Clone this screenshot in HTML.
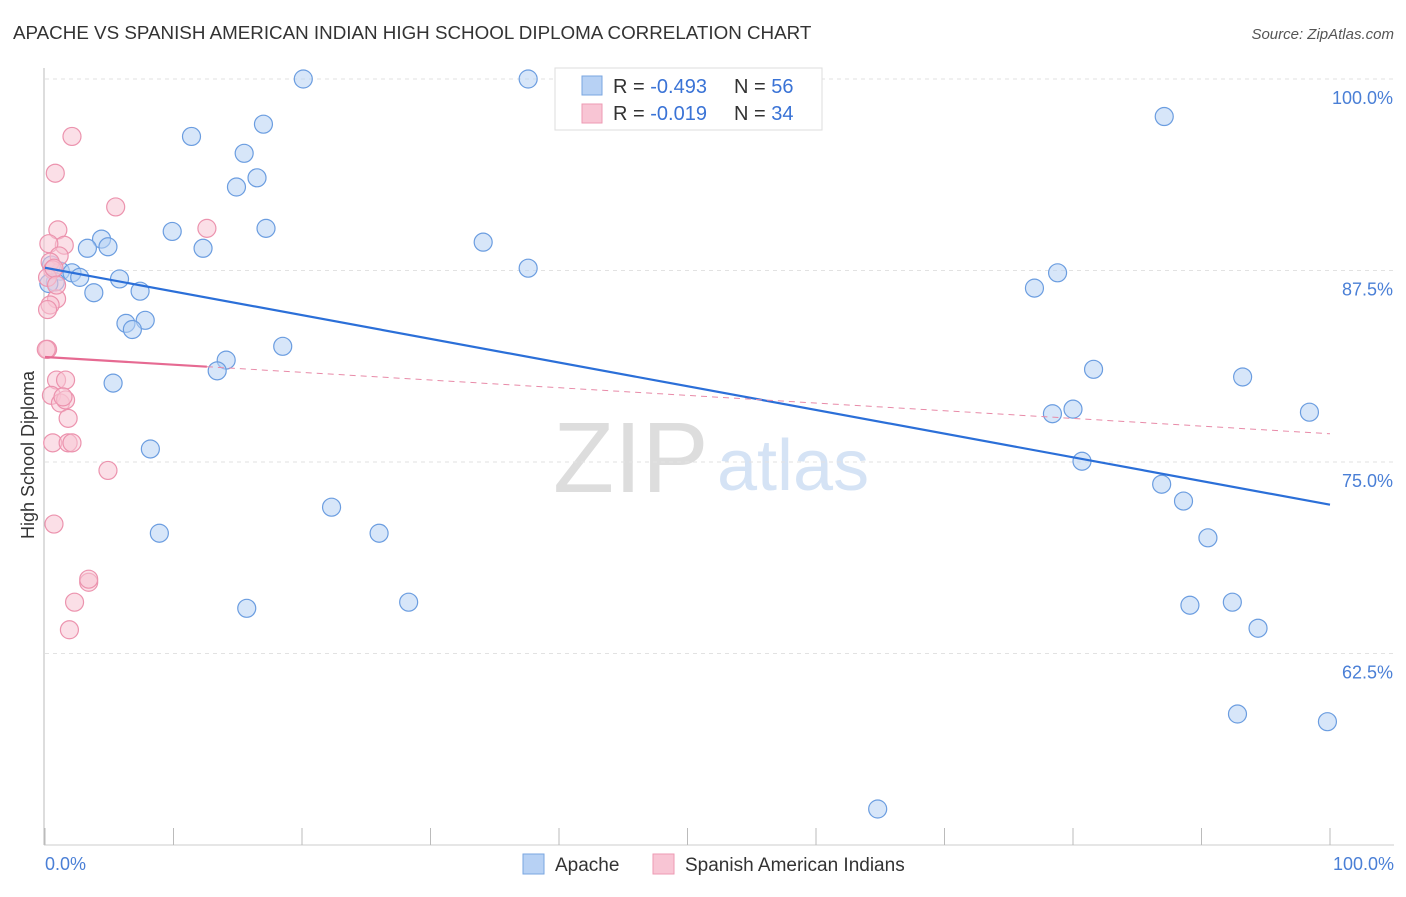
<!DOCTYPE html>
<html><head><meta charset="utf-8"><style>
body{margin:0;background:#fff;font-family:"Liberation Sans",sans-serif;}
svg text{font-family:"Liberation Sans",sans-serif;}
</style></head><body>
<svg id="c" width="1406" height="892">
<text x="13" y="39" font-size="18.8" fill="#333">APACHE VS SPANISH AMERICAN INDIAN HIGH SCHOOL DIPLOMA CORRELATION CHART</text>
<text x="1394" y="39" font-size="15" fill="#555" font-style="italic" text-anchor="end">Source: ZipAtlas.com</text>
<g>
<text x="553" y="492" font-size="100" fill="#ddd" font-family="Liberation Serif, serif">ZIP</text>
<text x="717" y="490" font-size="72" fill="#d5e3f5">atlas</text>
</g>
<g id="grid"></g>
<line x1="44" y1="68" x2="44" y2="845" stroke="#bbb"/>
<line x1="44" y1="845" x2="1394" y2="845" stroke="#ccc"/>
<g id="xt"></g>
<text x="34" y="455" font-size="18" fill="#333" text-anchor="middle" transform="rotate(-90 34 455)">High School Diploma</text>
<g id="pts"></g>
<g id="lines"></g>
<g>
<rect x="555" y="68" width="267" height="62" fill="#fff" stroke="#ddd"/>
<rect x="582" y="76" width="20" height="19" fill="#b7d1f4" stroke="#7aa6e0"/>
<rect x="582" y="104" width="20" height="19" fill="#f8c5d4" stroke="#ee9ab3"/>
<text x="613" y="93" font-size="20" fill="#333">R = <tspan fill="#3a73d6">-0.493</tspan><tspan x="734">N = </tspan><tspan fill="#3a73d6">56</tspan></text>
<text x="613" y="120" font-size="20" fill="#333">R = <tspan fill="#3a73d6"> -0.019</tspan><tspan x="734">N = </tspan><tspan fill="#3a73d6">34</tspan></text>
</g>
<g>
<rect x="523" y="854" width="21" height="20" fill="#b7d1f4" stroke="#7aa6e0"/>
<text x="555" y="871" font-size="19" fill="#333">Apache</text>
<rect x="653" y="854" width="21" height="20" fill="#f8c5d4" stroke="#ee9ab3"/>
<text x="685" y="871" font-size="19" fill="#333">Spanish American Indians</text>
</g>
</svg>
<script>
const yTicks=[100,87.5,75,62.5];
const yTickLabels=["100.0%","87.5%","75.0%","62.5%"];
const apacheX=[20.1,37.6,42.6,11.4,17.0,15.5,14.9,16.5,17.2,9.9,12.3,4.4,4.9,3.3,34.1,37.6,1.2,2.1,2.7,5.8,0.8,3.8,7.4,6.3,7.8,6.8,18.5,14.1,13.4,5.3,8.2,22.3,8.9,26.0,15.7,28.3,87.1,78.8,77.0,81.6,93.2,78.4,80.0,98.4,80.7,86.9,88.6,90.5,89.1,92.4,94.4,92.8,99.8,64.8,0.3,0.5];
const apacheY=[100.0,100.0,99.85,96.25,97.05,95.15,92.95,93.55,90.25,90.05,88.95,89.55,89.05,88.95,89.35,87.65,87.45,87.35,87.05,86.95,86.75,86.05,86.15,84.05,84.25,83.65,82.55,81.65,80.95,80.15,75.85,72.05,70.35,70.35,65.45,65.85,97.55,87.35,86.35,81.05,80.55,78.15,78.45,78.25,75.05,73.55,72.45,70.05,65.65,65.85,64.15,58.55,58.05,52.35,86.65,87.85];
const spanishX=[2.1,0.8,5.5,12.6,1.0,1.5,0.3,1.1,0.4,0.6,0.2,0.9,0.4,0.2,0.2,0.9,1.6,0.5,1.2,1.6,1.8,0.6,1.8,2.1,4.9,0.7,3.4,3.4,2.3,1.9,0.1,0.7,0.9,1.4];
const spanishY=[96.25,93.85,91.65,90.25,90.15,89.15,89.25,88.45,88.05,87.55,87.05,85.65,85.25,84.95,82.35,80.35,80.35,79.35,78.85,79.05,77.85,76.25,76.25,76.25,74.45,70.95,67.15,67.35,65.85,64.05,82.35,87.65,86.55,79.25];
const xTicks=[0,10,20,30,40,50,60,70,80,90,100];
const NS="http://www.w3.org/2000/svg";
function xs(v){return 45+v*12.85;}
function ys(v){return 79+(100-v)*15.32;}
function mk(t,a,p){const e=document.createElementNS(NS,t);for(const k in a)e.setAttribute(k,a[k]);p.appendChild(e);return e;}
const grid=document.getElementById('grid');
yTicks.forEach((v,i)=>{
 const l=mk('line',{x1:45,x2:1394,y1:ys(v),y2:ys(v),stroke:'#e2e2e2','stroke-dasharray':'4 4'},grid);
 
 
 const t=mk('text',{x:1393,y:ys(v)+25,'font-size':18,fill:'#4a7fd6','text-anchor':'end'},grid);
 t.textContent=yTickLabels[i];
 
 
});
const xt=document.getElementById('xt');
xTicks.forEach(v=>{
 const l=mk('line',{x1:xs(v),x2:xs(v),y1:828,y2:845,stroke:'#bbb'},xt);
 
 
});
[[0,'0.0%','start',45],[100,'100.0%','end',1394]].forEach(d=>{
 const t=mk('text',{x:d[3],y:870,'font-size':18,fill:'#4a7fd6','text-anchor':d[2]},xt);
 t.textContent=d[1];
 
 
});
const pts=document.getElementById('pts');
function draw(X,Y,f,s,name){X.forEach((x,i)=>{
 const c=mk('circle',{cx:xs(x),cy:ys(Y[i]),r:9,fill:f,'fill-opacity':0.55,stroke:s,'stroke-width':1.2},pts);
 
 
});}
draw(apacheX,apacheY,'#b7d1f4','#6b9de0','apache-point');
draw(spanishX,spanishY,'#f8c5d4','#ec93ae','spanish-point');
function fit(X,Y){const n=X.length;let mx=0,my=0;for(let i=0;i<n;i++){mx+=X[i];my+=Y[i];}mx/=n;my/=n;let sxy=0,sxx=0;for(let i=0;i<n;i++){sxy+=(X[i]-mx)*(Y[i]-my);sxx+=(X[i]-mx)**2;}const b=sxy/sxx;return [my-b*mx,b];}
const lines=document.getElementById('lines');
const fa=fit(apacheX,apacheY);
let l=mk('line',{x1:xs(0),y1:ys(fa[0]),x2:xs(100),y2:ys(fa[0]+fa[1]*100),stroke:'#2b6fd8','stroke-width':2.2},lines);


const fs=fit(spanishX,spanishY);
const mxs=Math.max(...spanishX);
l=mk('line',{x1:xs(0),y1:ys(fs[0]),x2:xs(mxs),y2:ys(fs[0]+fs[1]*mxs),stroke:'#e66a92','stroke-width':2.2},lines);


l=mk('line',{x1:xs(mxs),y1:ys(fs[0]+fs[1]*mxs),x2:xs(100),y2:ys(fs[0]+fs[1]*100),stroke:'#e88aa8','stroke-width':1,'stroke-dasharray':'6 5'},lines);


</script>
</body></html>
